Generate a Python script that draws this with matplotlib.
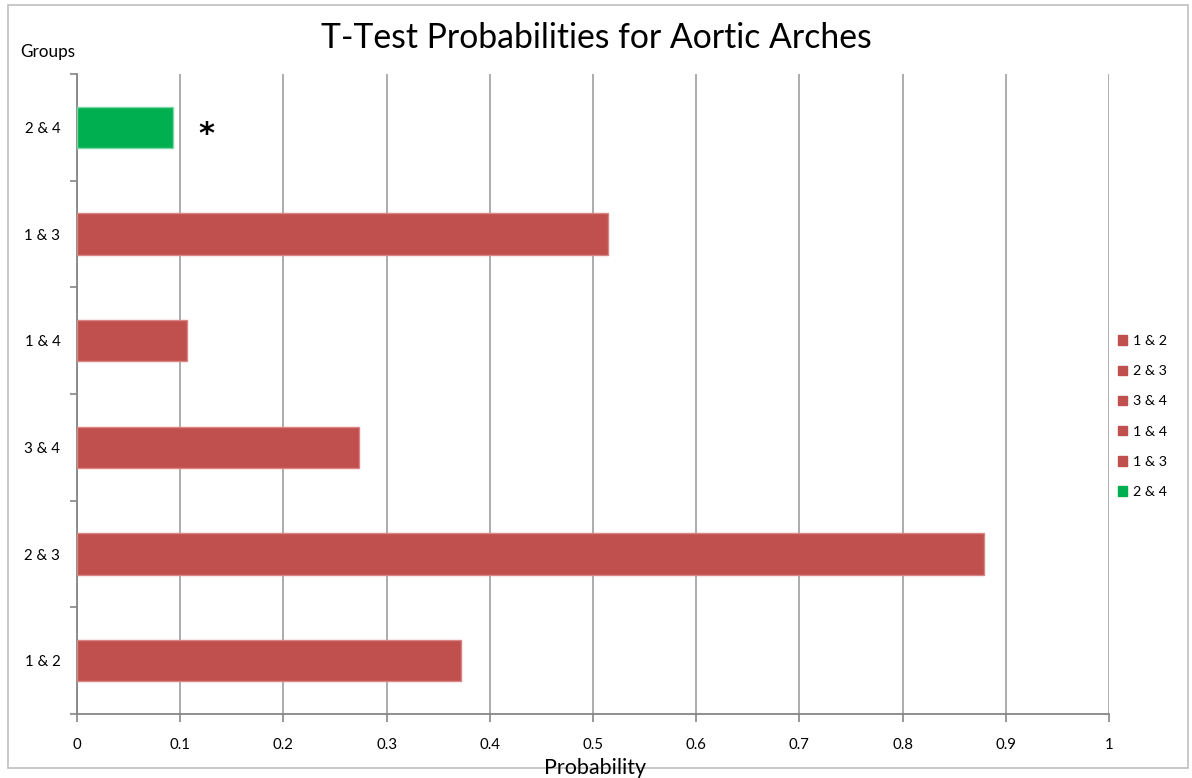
import matplotlib
matplotlib.use('Agg')
import matplotlib.pyplot as plt
from matplotlib.patches import Patch, Rectangle
import numpy as np

# Data
groups = ["1 & 2", "2 & 3", "3 & 4", "1 & 4", "1 & 3", "2 & 4"]
probs = [0.372, 0.879, 0.273, 0.107, 0.515, 0.093]
significant = ["2 & 4"]
x_ticks = [0, 0.1, 0.2, 0.3, 0.4, 0.5, 0.6, 0.7, 0.8, 0.9, 1]
x_tick_labels = ["0", "0.1", "0.2", "0.3", "0.4", "0.5", "0.6", "0.7", "0.8", "0.9", "1"]

RED = '#C0504D'
GREEN = '#00B050'
GRID = '#A6A6A6'
AXIS = '#868686'

plt.rcParams['font.family'] = ['Lato', 'DejaVu Sans']

fig = plt.figure(figsize=(11.92, 7.78), dpi=100)
ax = fig.add_axes([77 / 1192, 1 - 714 / 778, 1032 / 1192, 640 / 778])

# chart area frame
fig.patches.append(Rectangle((8 / 1192, 1 - 768 / 778), 1180 / 1192, 763 / 778,
                             transform=fig.transFigure, fill=False,
                             edgecolor='#BFBFBF', linewidth=1.2))

y = np.arange(len(groups))
colors = [GREEN if g in significant else RED for g in groups]
edges = ['#7FD6A5' if g in significant else '#D98583' for g in groups]
ax.barh(y, probs, height=0.39, color=colors, edgecolor=edges, linewidth=1.0, zorder=3)

for g, p, yy in zip(groups, probs, y):
    if g in significant:
        ax.text(p + 0.025, yy - 0.065, '*', fontsize=22, fontweight='bold',
                ha='left', va='center', color='#000000', family='DejaVu Sans')

ax.set_xlim(0, 1)
ax.set_ylim(-0.5, len(groups) - 0.5)
ax.set_xticks(x_ticks)
ax.set_xticklabels(x_tick_labels, fontsize=10.8)
ax.grid(True, axis='x', color=GRID, linewidth=1.3, zorder=0)
ax.tick_params(axis='x', length=6, width=1.2, color=AXIS, pad=11, colors='#000000')
ax.tick_params(axis='x', color=AXIS)

ax.set_yticks(y)
ax.set_yticklabels(groups, fontsize=10.8)
ax.set_yticks(np.arange(-0.5, len(groups), 1.0), minor=True)
ax.tick_params(axis='y', which='major', length=0, pad=12)
ax.tick_params(axis='y', which='minor', length=5, width=1.2, color=AXIS)

for side in ['top', 'right']:
    ax.spines[side].set_visible(False)
for side in ['left', 'bottom']:
    ax.spines[side].set_color(AXIS)
    ax.spines[side].set_linewidth(1.3)

fig.text(596 / 1192, 1 - 38 / 778, 'T-Test Probabilities for Aortic Arches',
         fontsize=24.3, ha='center', va='center')
fig.text(20 / 1192, 1 - 52 / 778, 'Groups', fontsize=12.3, ha='left', va='center')
fig.text(595 / 1192, 1 - 768 / 778, 'Probability', fontsize=15.5, ha='center', va='center')

handles = [Patch(facecolor=c, edgecolor=c) for c in colors]
fig.legend(handles, groups, loc='upper left', bbox_to_anchor=(1111 / 1192, 1 - 328 / 778),
           frameon=False, fontsize=10.3, handlelength=0.65, handleheight=0.65,
           handletextpad=0.4, labelspacing=1.27, borderpad=0)

fig.savefig('out.png', dpi=100, facecolor='white')
